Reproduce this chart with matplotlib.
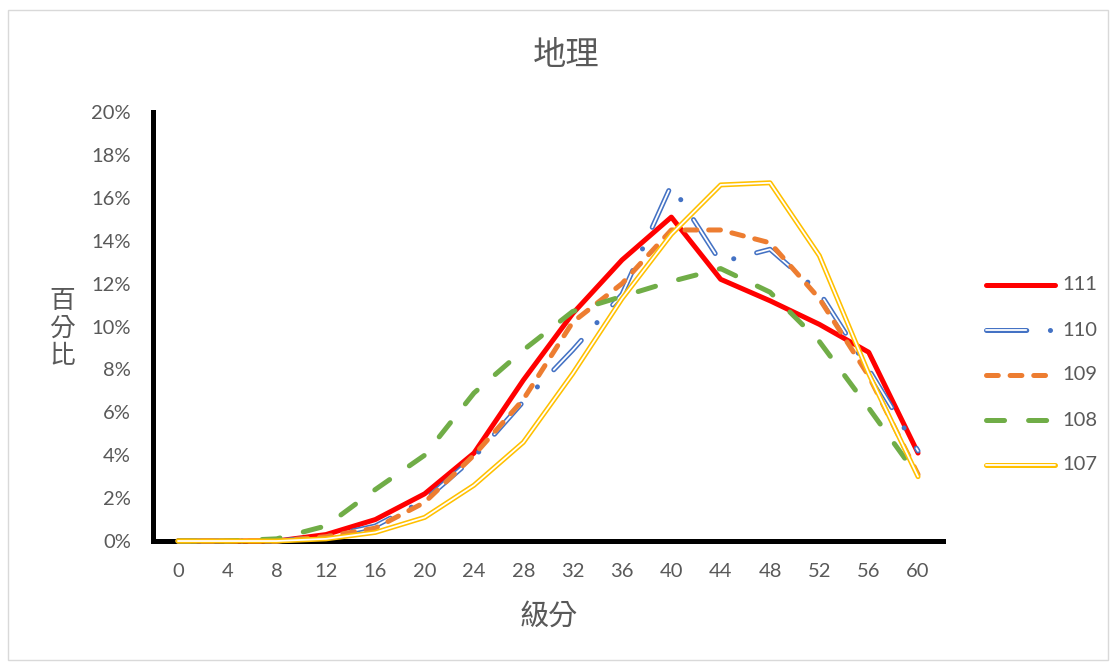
import numpy as np
import matplotlib
matplotlib.use('Agg')
import matplotlib.pyplot as plt
from matplotlib.lines import Line2D
from matplotlib.patches import Rectangle

plt.rcParams['font.family'] = ['Lato', 'Noto Sans CJK TC', 'DejaVu Sans']
plt.rcParams['lines.scale_dashes'] = False

# 級分 on the x axis, share of students (fraction) on the y axis
scores = [0, 4, 8, 12, 16, 20, 24, 28, 32, 36, 40, 44, 48, 52, 56, 60]
y111 = [0.000, 0.000, 0.000, 0.003, 0.010, 0.022, 0.041, 0.075, 0.106, 0.131, 0.151, 0.122, 0.112, 0.101, 0.088, 0.041]
y110 = [0.000, 0.000, 0.000, 0.002, 0.007, 0.019, 0.039, 0.065, 0.089, 0.115, 0.166, 0.130, 0.136, 0.116, 0.080, 0.042]
y109 = [0.000, 0.000, 0.000, 0.002, 0.006, 0.018, 0.040, 0.066, 0.102, 0.120, 0.145, 0.145, 0.139, 0.113, 0.077, 0.031]
y108 = [0.000, 0.000, 0.001, 0.007, 0.024, 0.040, 0.069, 0.089, 0.107, 0.114, 0.121, 0.127, 0.116, 0.093, 0.062, 0.030]
y107 = [0.000, 0.000, 0.000, 0.001, 0.004, 0.011, 0.026, 0.046, 0.078, 0.113, 0.143, 0.166, 0.167, 0.133, 0.078, 0.030]
series_names = ['111', '110', '109', '108', '107']
yticks = [0, 0.02, 0.04, 0.06, 0.08, 0.10, 0.12, 0.14, 0.16, 0.18, 0.20]

gray = '#595959'
W, H = 1113, 662

fig = plt.figure(figsize=(W / 100, H / 100), dpi=100)
fig.patches.append(Rectangle((8 / W, 2 / H), 1100 / W, 650 / H,
                             transform=fig.transFigure, fill=False,
                             edgecolor='#d9d9d9', linewidth=1))
ax = fig.add_axes([153.3 / W, 121 / H, 789.4 / W, 429 / H])

kw = dict(solid_capstyle='round', dash_capstyle='round')

# line styles for each year: list of (color, lw, linestyle) layers
styles = {
    '111': [('#ff0000', 3.6, '-')],
    '110': [('#4472c4', 3.6, (0, (29, 17, 0.1, 17))), ('white', 1.3, (0, (29, 34.1)))],
    '109': [('#ed7d31', 3.6, (0, (8.5, 8.5)))],
    '108': [('#70ad47', 3.6, (0, (13, 17.3)))],
    '107': [('#ffc000', 3.6, '-'), ('white', 1.3, '-')],
}
data = {'111': y111, '110': y110, '109': y109, '108': y108, '107': y107}

for name in series_names:
    for c, lw, ls in styles[name]:
        ax.plot(scores, data[name], color=c, lw=lw, linestyle=ls, clip_on=False, zorder=3, **kw)

ax.set_xlim(-2, 62)
ax.set_ylim(0, 0.20)
ax.set_xticks(scores)
ax.set_xticklabels([str(s) for s in scores])
ax.set_yticks(yticks)
ax.set_yticklabels([f'{round(v * 100)}%' for v in yticks])
ax.tick_params(length=0, labelsize=14.5, labelcolor=gray)
ax.tick_params(axis='y', pad=16)
ax.tick_params(axis='x', pad=16)

for s in ['top', 'right']:
    ax.spines[s].set_visible(False)
for s in ['left', 'bottom']:
    ax.spines[s].set_linewidth(3.6)
    ax.spines[s].set_color('black')

fig.text(566 / W, 1 - 56 / H, '地理', fontsize=24, color=gray, ha='center', va='center')
fig.text(549 / W, 1 - 616 / H, '級分', fontsize=21, color=gray, ha='center', va='center')
fig.text(62 / W, 1 - 328 / H, '百\n分\n比', fontsize=18.5, color=gray, ha='center', va='center',
         linespacing=1.15)

# legend drawn at the right, one row per year
for i, name in enumerate(series_names):
    yy = 1 - (285 + 45 * i) / H
    for c, lw, ls in styles[name]:
        fig.add_artist(Line2D([986 / W, 1055 / W], [yy, yy], transform=fig.transFigure,
                              color=c, lw=lw, linestyle=ls, **kw))
    fig.text(1062 / W, yy, name, fontsize=14.5, color=gray, ha='left', va='center')

fig.savefig('out.png', dpi=100)
